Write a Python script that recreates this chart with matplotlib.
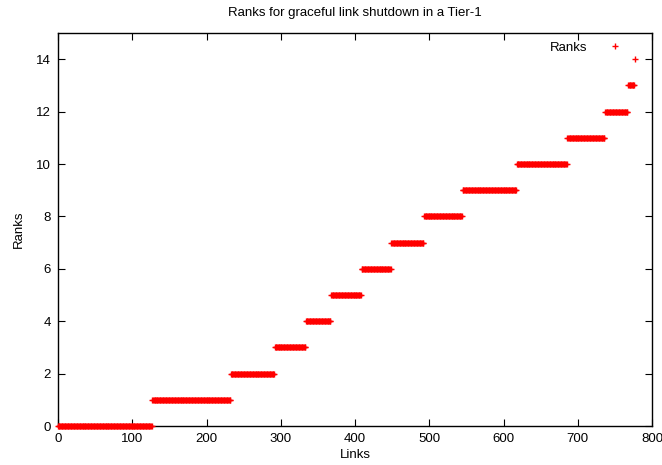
import numpy as np
import matplotlib.pyplot as plt

plt.rcParams['font.family'] = ['Liberation Sans', 'DejaVu Sans']

# numero de enlaces por cada rango (enlaces ordenados por rango)
rank_values = [0, 1, 2, 3, 4, 5, 6, 7, 8, 9, 10, 11, 12, 13, 14]
link_counts = [127, 106, 59, 42, 34, 41, 40, 44, 52, 73, 68, 51, 31, 9, 1]

ranks = np.repeat(rank_values, link_counts)
links = np.arange(len(ranks))

fig = plt.figure(figsize=(6.62, 4.65), dpi=100)
ax = fig.add_axes([58 / 662, 39 / 465, 594 / 662, 393 / 465])

ax.plot(links, ranks, linestyle='none', marker='+', color='red',
        markersize=5, markeredgewidth=1, label='Ranks', clip_on=False, zorder=3)

ax.set_xlim(0, 800)
ax.set_ylim(0, 15)
ax.set_xticks(range(0, 801, 100))
ax.set_yticks(range(0, 15, 2))
ax.tick_params(direction='in', top=True, right=True, length=5, labelsize=9.5, pad=5)
for s in ax.spines.values():
    s.set_linewidth(1)

ax.set_title('Ranks for graceful link shutdown in a Tier-1', fontsize=9.5, pad=12)
ax.set_xlabel('Links', fontsize=9.5, labelpad=3)
ax.set_ylabel('Ranks', fontsize=9.5, labelpad=8)

ax.legend(loc='upper right', bbox_to_anchor=(0.974, 0.992), borderaxespad=0,
          frameon=False, markerfirst=False, fontsize=9.5,
          handlelength=2.5, handletextpad=0.8)

fig.savefig('out.png', dpi=100)
